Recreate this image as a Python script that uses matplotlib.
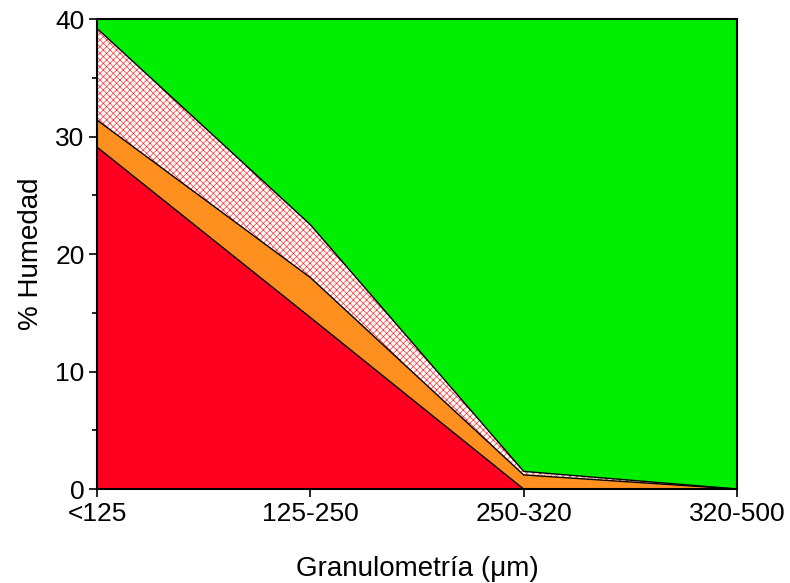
import numpy as np
import matplotlib.pyplot as plt

plt.rcParams['font.family'] = ['Liberation Sans', 'DejaVu Sans']
plt.rcParams['hatch.linewidth'] = 0.5

# Granulometry classes and moisture layers (% humedad)
categories = ['<125', '125-250', '250-320', '320-500']
red_layer = [29.1, 14.6, 0.0, 0.0]
orange_layer = [2.3, 3.4, 1.2, 0.0]
hatched_layer = [7.8, 4.5, 0.3, 0.0]
total = 40

x = np.arange(len(categories))
y1 = np.array(red_layer)
y2 = y1 + np.array(orange_layer)
y3 = y2 + np.array(hatched_layer)

fig = plt.figure(figsize=(7.9, 5.83), dpi=100)
ax = fig.add_axes([0.1228, 0.1612, 0.8101, 0.8062])

ax.fill_between(x, 0, y1, facecolor='#ff0020', edgecolor='none')
ax.fill_between(x, y1, y2, facecolor='#ff9020', edgecolor='none')
ax.fill_between(x, y2, y3, facecolor='white', edgecolor='#ff3030',
                hatch='xxxxx', linewidth=0)
ax.fill_between(x, y3, total, facecolor='#00ee00', edgecolor='none')

for y in (y1, y2, y3):
    ax.plot(x, y, color='black', lw=1)

ax.set_xlim(0, 3)
ax.set_ylim(0, 40)
ax.set_xticks(x)
ax.set_xticklabels(categories)
ax.set_yticks([0, 10, 20, 30, 40])
ax.set_yticks([5, 15, 25, 35], minor=True)
ax.tick_params(axis='both', which='major', direction='out', length=6, width=1.2,
               labelsize=19, pad=3)
ax.tick_params(axis='y', which='minor', direction='out', length=3.5, width=1.2)
for s in ax.spines.values():
    s.set_linewidth(1.5)

ax.set_xlabel('Granulometría (μm)', fontsize=20, labelpad=22)
ax.set_ylabel('% Humedad', fontsize=20, labelpad=8)

fig.savefig('out.png', dpi=100)
